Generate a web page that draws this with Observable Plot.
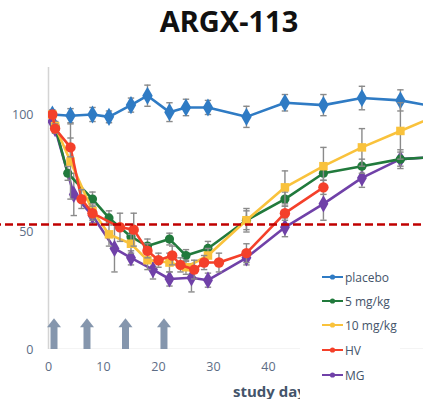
<!DOCTYPE html>
<html>
<head>
<meta charset="utf-8">
<script src="https://cdn.jsdelivr.net/npm/d3@7"></script>
<script src="https://cdn.jsdelivr.net/npm/@observablehq/plot@0.6"></script>
<style>
  html, body { margin: 0; padding: 0; background: #fff; }
  body { width: 423px; height: 399px; overflow: hidden; }
  #wrap { position: relative; width: 423px; height: 399px; }
  #title { height: 50px; line-height: 41px; padding-left: 35px; text-align: center;
           font-family: "Noto Sans", sans-serif; font-weight: bold; font-size: 29px; color: #111; }
  #legend { position: absolute; left: 300px; top: 262px; width: 100px; height: 137px; background: #fff;
            font-family: "Open Sans", sans-serif; font-size: 12px; color: #44546a; }
  .lg { position: absolute; left: 22px; height: 20px; display: flex; align-items: center; }
  .lg svg { margin-right: 2px; }
  #xlabel { position: absolute; left: 233px; top: 381px; line-height: 20px;
            font-family: "Open Sans", sans-serif; font-weight: bold; font-size: 15px; color: #44546a; }
</style>
</head>
<body>
<div id="wrap">
  <div id="title">ARGX-113</div>
  <div id="chart"></div>
  <div id="xlabel">study day</div>
  <div id="legend"></div>
</div>
<script>
// ---- data ----
const seriesNames  = ["placebo", "5 mg/kg", "10 mg/kg", "HV", "MG"];
const seriesColors = ["#2f7bc4", "#217a3c", "#f9c23c", "#f4402a", "#7041a8"];

const dayPlacebo = [0.7, 4, 8, 11, 15, 18, 22, 25, 29, 36, 43, 50, 57, 64, 71];
const valPlacebo = [100, 99.5, 100, 99, 104, 108, 101, 103, 103, 99, 105, 104, 107, 106, 103];
const errPlacebo = [2, 3, 3, 2.5, 3, 4.5, 4, 3.5, 3, 4.5, 3.5, 4.5, 5, 4.5, 4];

const day5mg = [0.7, 1.2, 3.5, 8, 11, 15, 18, 22, 25, 29, 36, 43, 50, 57, 64, 71];
const val5mg = [100, 95, 75, 64, 56, 48, 44, 47, 40, 43, 55, 64, 75, 78, 81, 82];
const err5mg = [0, 2, 3, 3, 3, 3, 3, 2.5, 2.5, 3, 4, 3, 3, 3, 3, 3];

const day10mg = [0.7, 1.2, 4, 8, 11, 15, 18, 22, 25, 29, 36, 43, 50, 57, 64, 71];
const val10mg = [100, 95, 80, 59, 49, 45, 38, 37, 35, 40, 55, 69, 78, 86, 93, 100];
const err10mg = [0, 2, 16, 3, 5, 4, 4, 4, 3, 3, 5, 7, 8, 8, 12, 8];

const dayHV = [0.7, 1.2, 4, 6, 8, 13, 15.5, 18, 20, 22.5, 24, 26.5, 28.3, 31, 36, 43, 50];
const valHV = [100, 94, 86, 64, 58, 52, 51, 42, 38, 40, 36, 34, 37, 37, 41, 58, 69];
const errHV = [0, 2, 4, 4, 3, 6, 7, 3, 3, 4, 3, 4, 3, 4, 4, 3, 3];

const dayMG = [0.7, 1.2, 4.6, 8, 12, 15, 19, 22, 26, 29, 36, 43, 50, 57, 64, 71];
const valMG = [97, 94, 66, 57, 43, 39, 34, 30, 30.5, 29.5, 39, 52, 62, 73, 81, 82];
const errMG = [0, 2, 9, 3, 10, 3, 4, 3, 6, 3, 3, 4, 7, 4, 4, 3];

const doseDays = [1, 7, 14, 21];
const threshold = [53.2];
const xTicks = [0, 10, 20, 30, 40, 50, 60];
const yTicks = [0, 50, 100];

// ---- build tables ----
function rows(name, days, vals, errs) {
  return days.map((d, i) => ({series: name, day: d, v: vals[i], e: errs[i]}));
}
const tables = {
  "placebo": rows("placebo", dayPlacebo, valPlacebo, errPlacebo),
  "5 mg/kg": rows("5 mg/kg", day5mg, val5mg, err5mg),
  "10 mg/kg": rows("10 mg/kg", day10mg, val10mg, err10mg),
  "HV": rows("HV", dayHV, valHV, errHV),
  "MG": rows("MG", dayMG, valMG, errMG)
};
const symbols = {"placebo": "diamond", "5 mg/kg": "circle", "10 mg/kg": "square", "HV": "circle", "MG": "diamond"};
const radii = {"placebo": 5.5, "5 mg/kg": 4.6, "10 mg/kg": 4.8, "HV": 5.2, "MG": 5.2};
const colorOf = Object.fromEntries(seriesNames.map((n, i) => [n, seriesColors[i]]));

const capSymbol = { draw(ctx, size) { const r = Math.sqrt(size / Math.PI); ctx.moveTo(-r, 0); ctx.lineTo(r, 0); } };
const headSymbol = { draw(ctx, size) { ctx.moveTo(0, -9); ctx.lineTo(7, 0); ctx.lineTo(-7, 0); ctx.closePath(); } };

const errColor = "#8a8a8a";
const marks = [
  Plot.ruleY([0], {stroke: "#d4d4d4", strokeWidth: 1.5, x1: 0, x2: 80, clip: true}),
  Plot.ruleX([0], {stroke: "#d4d4d4", strokeWidth: 1.5, y1: 0, y2: 120}),
  Plot.ruleX(doseDays, {x: d => d, y1: 0, y2: 9.5, stroke: "#8596ad", strokeWidth: 7}),
  Plot.dot(doseDays, {x: d => d, y: 9.5, symbol: headSymbol, fill: "#8596ad", stroke: "none"})
];

const drawOrder = ["placebo", "MG", "5 mg/kg", "10 mg/kg", "HV"];
for (const name of drawOrder) {
  const t = tables[name];
  const c = colorOf[name];
  marks.push(Plot.line(t, {x: "day", y: "v", stroke: c, strokeWidth: 2.6, clip: true}));
  const te = t.filter(d => d.e > 0);
  marks.push(Plot.ruleX(te, {x: "day", y1: d => d.v - d.e, y2: d => d.v + d.e, stroke: errColor, strokeWidth: 1.4, clip: true}));
  marks.push(Plot.dot(te, {x: "day", y: d => d.v + d.e, symbol: capSymbol, r: 3.2, fill: "none", stroke: errColor, strokeWidth: 1.4, clip: true}));
  marks.push(Plot.dot(te, {x: "day", y: d => d.v - d.e, symbol: capSymbol, r: 3.2, fill: "none", stroke: errColor, strokeWidth: 1.4, clip: true}));
  marks.push(Plot.dot(t, {x: "day", y: "v", symbol: symbols[name], r: radii[name], fill: c, stroke: "none", clip: true}));
}
marks.push(Plot.ruleY(threshold, {y: d => d, x1: -10, x2: 80, stroke: "#c00000", strokeWidth: 2.6, strokeDasharray: "8,4"}));

const chart = Plot.plot({
  width: 423,
  height: 349,
  marginTop: 17,
  marginBottom: 50,
  marginLeft: 48,
  marginRight: 0,
  style: {color: "#5d6d85", fontFamily: "Open Sans, sans-serif", fontSize: "12.5px", background: "transparent"},
  x: {domain: [0, 68.2], ticks: xTicks, tickSize: 0, tickPadding: 13, label: null, tickFormat: d => String(d)},
  y: {domain: [0, 120], ticks: yTicks, tickSize: 0, tickPadding: 15, label: null, tickFormat: d => String(d)},
  marks
});
document.getElementById("chart").appendChild(chart);

// ---- legend (inside the plot area, lower right) ----
const legend = document.getElementById("legend");
const legendTops = [5, 29, 53, 78, 103];
seriesNames.forEach((n, i) => {
  const row = document.createElement("div");
  row.className = "lg";
  row.style.top = legendTops[i] + "px";
  row.innerHTML = `<svg width="21" height="8"><line x1="0" y1="4" x2="21" y2="4" stroke="${seriesColors[i]}" stroke-width="2"/><circle cx="10.5" cy="4" r="2.6" fill="${seriesColors[i]}"/></svg><span>${n}</span>`;
  legend.appendChild(row);
});
</script>
</body>
</html>
